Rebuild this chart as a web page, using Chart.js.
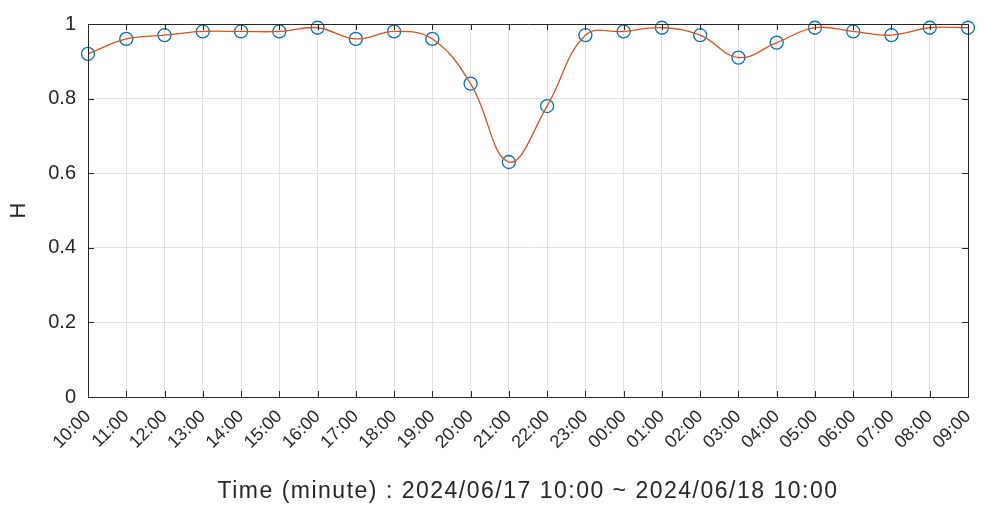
<!DOCTYPE html>
<html>
<head>
<meta charset="utf-8">
<script src="https://cdn.jsdelivr.net/npm/chart.js@4"></script>
<style>
  html, body { margin: 0; padding: 0; background: #fff; }
  canvas { display: block; }
</style>
</head>
<body>
<canvas id="chart" width="984" height="505"></canvas>
<script>
const hours = ["10:00", "11:00", "12:00", "13:00", "14:00", "15:00", "16:00", "17:00",
  "18:00", "19:00", "20:00", "21:00", "22:00", "23:00", "00:00", "01:00",
  "02:00", "03:00", "04:00", "05:00", "06:00", "07:00", "08:00", "09:00"];
const hValues = [0.92, 0.96, 0.97, 0.98, 0.98, 0.98, 0.99, 0.96,
  0.98, 0.96, 0.84, 0.63, 0.78, 0.97, 0.98, 0.99,
  0.97, 0.91, 0.95, 0.99, 0.98, 0.97, 0.99, 0.99];
const yTicks = [0, 0.2, 0.4, 0.6, 0.8, 1];
const xTitle = "Time (minute) : 2024/06/17 10:00 ~ 2024/06/18 10:00";
const yTitle = "H";

const axisColor = "#262626";
const fontFamily = "'Liberation Sans', Arial, sans-serif";

// box around the plot with inward tick marks, like the original
const boxPlugin = {
  id: "box",
  beforeDraw(chart) {
    // the x title in the original is set wider than the tick labels
    const sx = chart.scales.x;
    if (!sx._wideTitle) {
      const orig = sx.drawTitle.bind(sx);
      sx.drawTitle = function () {
        const prev = this.ctx.letterSpacing;
        this.ctx.letterSpacing = "1.5px";
        orig();
        this.ctx.letterSpacing = prev;
      };
      sx._wideTitle = true;
    }
  },
  afterDraw(chart) {
    const { ctx, chartArea: a, scales } = chart;
    const len = 6;
    ctx.save();
    ctx.strokeStyle = axisColor;
    ctx.lineWidth = 1;
    ctx.beginPath();
    ctx.rect(a.left + 0.5, a.top + 0.5, a.right - a.left, a.bottom - a.top);
    scales.x.ticks.forEach((t, i) => {
      const x = Math.round(scales.x.getPixelForTick(i)) + 0.5;
      ctx.moveTo(x, a.bottom);
      ctx.lineTo(x, a.bottom - len);
      ctx.moveTo(x, a.top);
      ctx.lineTo(x, a.top + len);
    });
    scales.y.ticks.forEach((t, i) => {
      const y = Math.round(scales.y.getPixelForTick(i)) + 0.5;
      ctx.moveTo(a.left, y);
      ctx.lineTo(a.left + len, y);
      ctx.moveTo(a.right, y);
      ctx.lineTo(a.right - len, y);
    });
    ctx.stroke();
    ctx.restore();
  }
};

new Chart(document.getElementById("chart"), {
  type: "line",
  data: {
    labels: hours,
    datasets: [
      {
        data: hValues,
        borderColor: "#D95319",
        borderWidth: 1.3,
        pointRadius: 0,
        tension: 0.4,
        fill: false
      },
      {
        data: hValues,
        showLine: false,
        pointRadius: 6.5,
        pointBorderWidth: 1.3,
        pointBorderColor: "#0072BD",
        pointBackgroundColor: "rgba(0,0,0,0)",
        clip: false
      }
    ]
  },
  options: {
    responsive: false,
    animation: false,
    devicePixelRatio: 1,
    layout: { padding: { left: 0, right: 16, top: 23, bottom: 0 } },
    plugins: {
      legend: { display: false },
      tooltip: { enabled: false }
    },
    scales: {
      x: {
        offset: false,
        grid: { color: "#e0e0e0", drawTicks: false, offset: false },
        border: { color: axisColor, width: 1 },
        ticks: {
          autoSkip: false,
          maxRotation: 45,
          minRotation: 45,
          padding: 9,
          color: axisColor,
          font: { family: fontFamily, size: 18 }
        },
        title: {
          display: true,
          text: xTitle,
          color: axisColor,
          font: { family: fontFamily, size: 23 },
          padding: { top: 0, bottom: 0 }
        },
        afterFit(scale) {
          scale.height = 108;
          scale.paddingLeft = 0;
          scale.paddingRight = 0;
        }
      },
      y: {
        min: 0,
        max: 1,
        afterBuildTicks(scale) {
          scale.ticks = yTicks.map(v => ({ value: v }));
        },
        grid: { color: "#e0e0e0", drawTicks: false },
        border: { color: axisColor, width: 1 },
        ticks: {
          padding: 12,
          color: axisColor,
          font: { family: fontFamily, size: 20 },
          callback: v => String(+v.toFixed(1))
        },
        title: {
          display: true,
          text: yTitle,
          color: axisColor,
          font: { family: fontFamily, size: 22 },
          padding: { top: 6, bottom: 0 }
        },
        afterFit(scale) { scale.width = 88; }
      }
    }
  },
  plugins: [boxPlugin]
});
</script>
</body>
</html>
